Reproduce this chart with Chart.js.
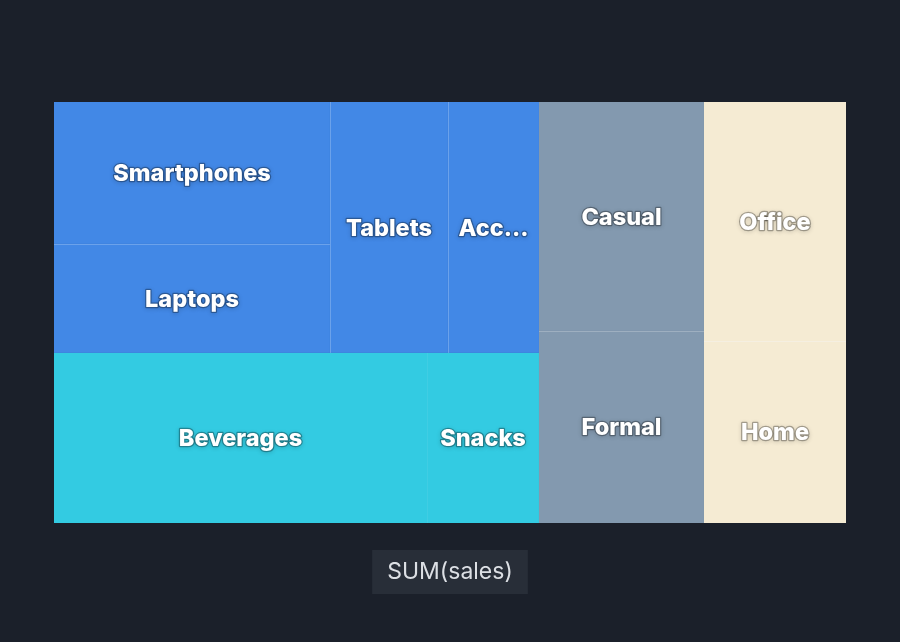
<!DOCTYPE html>
<html>
<head>
<meta charset="utf-8">
<script src="https://cdn.jsdelivr.net/npm/chart.js@4.4.1/dist/chart.umd.min.js"></script>
<style>
  html, body { margin: 0; padding: 0; background: #1b202a; }
  #wrap { width: 900px; height: 642px; }
</style>
</head>
<body>
<div id="wrap"><canvas id="c" width="900" height="642"></canvas></div>
<script>
// ---- data ----
const groupNames = ['Electronics', 'Food', 'Clothing', 'Furniture'];
const groupColors = ['#4288e6', '#33cbe2', '#8399af', '#f5ebd3'];
const groupLineColors = ['rgba(255,255,255,0.22)', 'rgba(255,255,255,0.07)', 'rgba(255,255,255,0.22)', 'rgba(255,255,255,0.4)'];
const leafNames = ['Smartphones', 'Laptops', 'Tablets', 'Accessories', 'Beverages', 'Snacks', 'Casual', 'Formal', 'Office', 'Home'];
const leafGroup = [0, 0, 0, 0, 1, 1, 2, 2, 3, 3];
const sales = [1175, 902, 888, 685, 1902, 571, 1133, 950, 1018, 775];
const metricLabel = 'SUM(sales)';

// ---- ECharts-like squarify (golden ratio) ----
const SQUARE_RATIO = 0.5 * (1 + Math.sqrt(5));
function worst(row, fixed) {
  let mx = 0, mn = Infinity;
  row.forEach(n => { if (n.area) { if (n.area < mn) mn = n.area; if (n.area > mx) mx = n.area; } });
  const sq = row.area * row.area;
  const f = fixed * fixed * SQUARE_RATIO;
  return sq ? Math.max(f * mx / sq, sq / (f * mn)) : Infinity;
}
function position(row, fixed, rect, flush) {
  const i0 = fixed === rect.w ? 0 : 1, i1 = 1 - i0;
  const xy = ['x', 'y'], wh = ['w', 'h'];
  let last = rect[xy[i0]];
  let other = fixed ? row.area / fixed : 0;
  if (flush || other > rect[wh[i1]]) other = rect[wh[i1]];
  row.forEach((n, i) => {
    const step = other ? n.area / other : 0;
    const remain = rect[xy[i0]] + rect[wh[i0]] - last;
    const m = (i === row.length - 1 || remain < step) ? remain : step;
    n.rect = {};
    n.rect[wh[i1]] = other; n.rect[wh[i0]] = m;
    n.rect[xy[i1]] = rect[xy[i1]]; n.rect[xy[i0]] = last;
    last += m;
  });
  rect[xy[i1]] += other; rect[wh[i1]] -= other;
}
function squarify(nodes, rect) {
  const total = nodes.reduce((s, n) => s + n.value, 0);
  const A = rect.w * rect.h;
  const items = nodes.slice().sort((a, b) => b.value - a.value);
  items.forEach(n => n.area = n.value / total * A);
  const r = Object.assign({}, rect);
  let fixed = Math.min(r.w, r.h), best = Infinity, row = []; row.area = 0;
  for (let i = 0; i < items.length;) {
    row.push(items[i]); row.area += items[i].area;
    const s = worst(row, fixed);
    if (s <= best) { i++; best = s; }
    else {
      row.area -= row.pop().area;
      position(row, fixed, r, false);
      fixed = Math.min(r.w, r.h); row = []; row.area = 0; best = Infinity;
    }
  }
  if (row.length) position(row, fixed, r, true);
  return items;
}

function buildLayout(aspect) {
  const groups = groupNames.map((g, gi) => {
    const kids = [];
    leafNames.forEach((n, i) => { if (leafGroup[i] === gi) kids.push({ name: n, value: sales[i], gi }); });
    return { name: g, gi, value: kids.reduce((s, k) => s + k.value, 0), kids };
  });
  squarify(groups, { x: 0, y: 0, w: aspect, h: 1 });
  const leaves = [];
  groups.forEach(g => {
    squarify(g.kids, { x: g.rect.x, y: g.rect.y, w: g.rect.w, h: g.rect.h });
    g.kids.forEach(k => { k.group = g; leaves.push(k); });
  });
  return { groups, leaves };
}

function fitText(ctx, text, maxW) {
  if (ctx.measureText(text).width <= maxW) return text;
  let t = text;
  while (t.length > 1 && ctx.measureText(t + '...').width > maxW) t = t.slice(0, -1);
  return t + '...';
}

const treemapPlugin = {
  id: 'treemap',
  afterDatasetsDraw(chart) {
    const ctx = chart.ctx, xs = chart.scales.x, ys = chart.scales.y;
    const ca = chart.chartArea;
    const aspect = (ca.right - ca.left) / (ca.bottom - ca.top);
    const { leaves } = buildLayout(aspect);
    const toPx = r => {
      const x0 = xs.getPixelForValue(r.x / aspect), x1 = xs.getPixelForValue((r.x + r.w) / aspect);
      const ya = ys.getPixelForValue(r.y), yb = ys.getPixelForValue(r.y + r.h);
      return { x0, x1, y0: Math.min(ya, yb), y1: Math.max(ya, yb) };
    };
    ctx.save();
    leaves.forEach(l => {
      l.px = toPx(l.rect);
      l.gpx = toPx(l.group.rect);
      ctx.fillStyle = groupColors[l.gi];
      ctx.fillRect(l.px.x0, l.px.y0, l.px.x1 - l.px.x0, l.px.y1 - l.px.y0);
    });
    // inner borders between siblings
    ctx.lineWidth = 1;
    leaves.forEach(l => {
      ctx.strokeStyle = groupLineColors[l.gi];
      ctx.beginPath();
      if (l.px.x1 < l.gpx.x1 - 1) {
        const x = Math.round(l.px.x1) + 0.5;
        ctx.moveTo(x, l.px.y0); ctx.lineTo(x, l.px.y1);
      }
      if (l.px.y1 < l.gpx.y1 - 1) {
        const y = Math.round(l.px.y1) + 0.5;
        ctx.moveTo(l.px.x0, y); ctx.lineTo(l.px.x1, y);
      }
      ctx.stroke();
    });
    // labels
    ctx.font = '800 23.5px Inter, "Noto Sans", sans-serif';
    ctx.textAlign = 'center';
    ctx.textBaseline = 'middle';
    ctx.lineJoin = 'round';
    leaves.forEach(l => {
      const w = l.px.x1 - l.px.x0;
      const txt = fitText(ctx, l.name, w - 14);
      const cx = (l.px.x0 + l.px.x1) / 2, cy = (l.px.y0 + l.px.y1) / 2 + 1;
      ctx.shadowColor = 'rgba(0,0,0,0.5)';
      ctx.shadowBlur = 4;
      ctx.shadowOffsetX = 0;
      ctx.shadowOffsetY = 1;
      ctx.strokeStyle = 'rgba(0,0,0,0.3)';
      ctx.lineWidth = 2.5;
      ctx.strokeText(txt, cx, cy);
      ctx.shadowColor = 'transparent';
      ctx.fillStyle = '#ffffff';
      ctx.fillText(txt, cx, cy);
    });
    ctx.restore();
    // metric label box
    ctx.save();
    ctx.font = '23px Inter, "Noto Sans", sans-serif';
    const tw = ctx.measureText(metricLabel).width;
    const bw = tw + 30, bx = 450 - bw / 2;
    ctx.fillStyle = '#282e38';
    ctx.fillRect(bx, 550, bw, 44);
    ctx.fillStyle = '#dcdfe4';
    ctx.textAlign = 'center';
    ctx.textBaseline = 'middle';
    ctx.fillText(metricLabel, 450, 572);
    ctx.restore();
  }
};

new Chart(document.getElementById('c'), {
  type: 'scatter',
  data: { datasets: [{ label: metricLabel, data: leafNames.map((n, i) => ({ x: 0, y: 0, v: sales[i] })), pointRadius: 0, hoverRadius: 0 }] },
  options: {
    responsive: false,
    animation: false,
    devicePixelRatio: 1,
    layout: { padding: { left: 54, right: 54, top: 102, bottom: 119 } },
    plugins: { legend: { display: false }, tooltip: { enabled: false } },
    scales: {
      x: { type: 'linear', min: 0, max: 1, display: false },
      y: { type: 'linear', min: 0, max: 1, reverse: true, display: false }
    }
  },
  plugins: [treemapPlugin]
});
</script>
</body>
</html>
